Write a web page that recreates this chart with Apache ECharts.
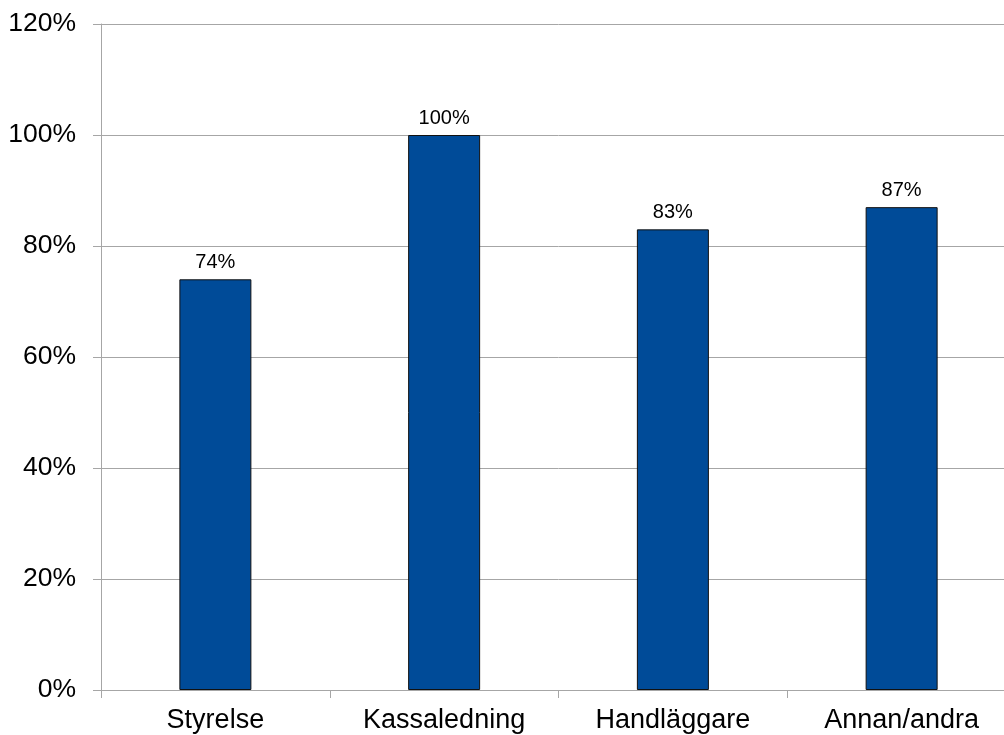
<!DOCTYPE html>
<html>
<head>
<meta charset="utf-8">
<style>
  html, body { margin: 0; padding: 0; background: #ffffff; overflow: hidden; }
  #chart { width: 1020px; height: 735px; }
</style>
<script src="https://cdn.jsdelivr.net/npm/echarts@6/dist/echarts.min.js"></script>
</head>
<body>
<div id="chart"></div>
<script>
// Share of respondents per role (percent)
const categories = ['Styrelse', 'Kassaledning', 'Handläggare', 'Annan/andra'];
const shares = [74, 100, 83, 87];

const chart = echarts.init(document.getElementById('chart'), null, { renderer: 'canvas' });
const font = '"Liberation Sans", Arial, sans-serif';

chart.setOption({
  animation: false,
  backgroundColor: '#ffffff',
  // the plot runs slightly past the right edge of the visible page
  grid: { left: 101, right: 4, top: 24, bottom: 45, containLabel: false },
  xAxis: {
    type: 'category',
    data: categories,
    axisLine: { show: true, lineStyle: { color: '#a6a6a6', width: 1 } },
    axisTick: { show: true, length: 8, alignWithLabel: false, lineStyle: { color: '#a6a6a6' } },
    axisLabel: { color: '#000000', fontSize: 27, fontFamily: font, margin: 17 },
    splitLine: { show: false }
  },
  yAxis: {
    type: 'value',
    min: 0,
    max: 120,
    interval: 20,
    axisLine: { show: true, lineStyle: { color: '#a6a6a6', width: 1 } },
    axisTick: { show: true, length: 8, lineStyle: { color: '#a6a6a6' } },
    axisLabel: { color: '#000000', fontSize: 26.5, fontFamily: font, margin: 25, formatter: '{value}%' },
    splitLine: { show: true, lineStyle: { color: '#a6a6a6', width: 1 } }
  },
  series: [{
    type: 'bar',
    data: shares,
    barWidth: 72,
    itemStyle: { color: '#004b98', borderColor: '#111111', borderWidth: 1 },
    label: {
      show: true,
      position: 'top',
      distance: 7,
      color: '#000000',
      fontSize: 20,
      fontFamily: font,
      formatter: '{c}%'
    }
  }]
});
</script>
</body>
</html>
